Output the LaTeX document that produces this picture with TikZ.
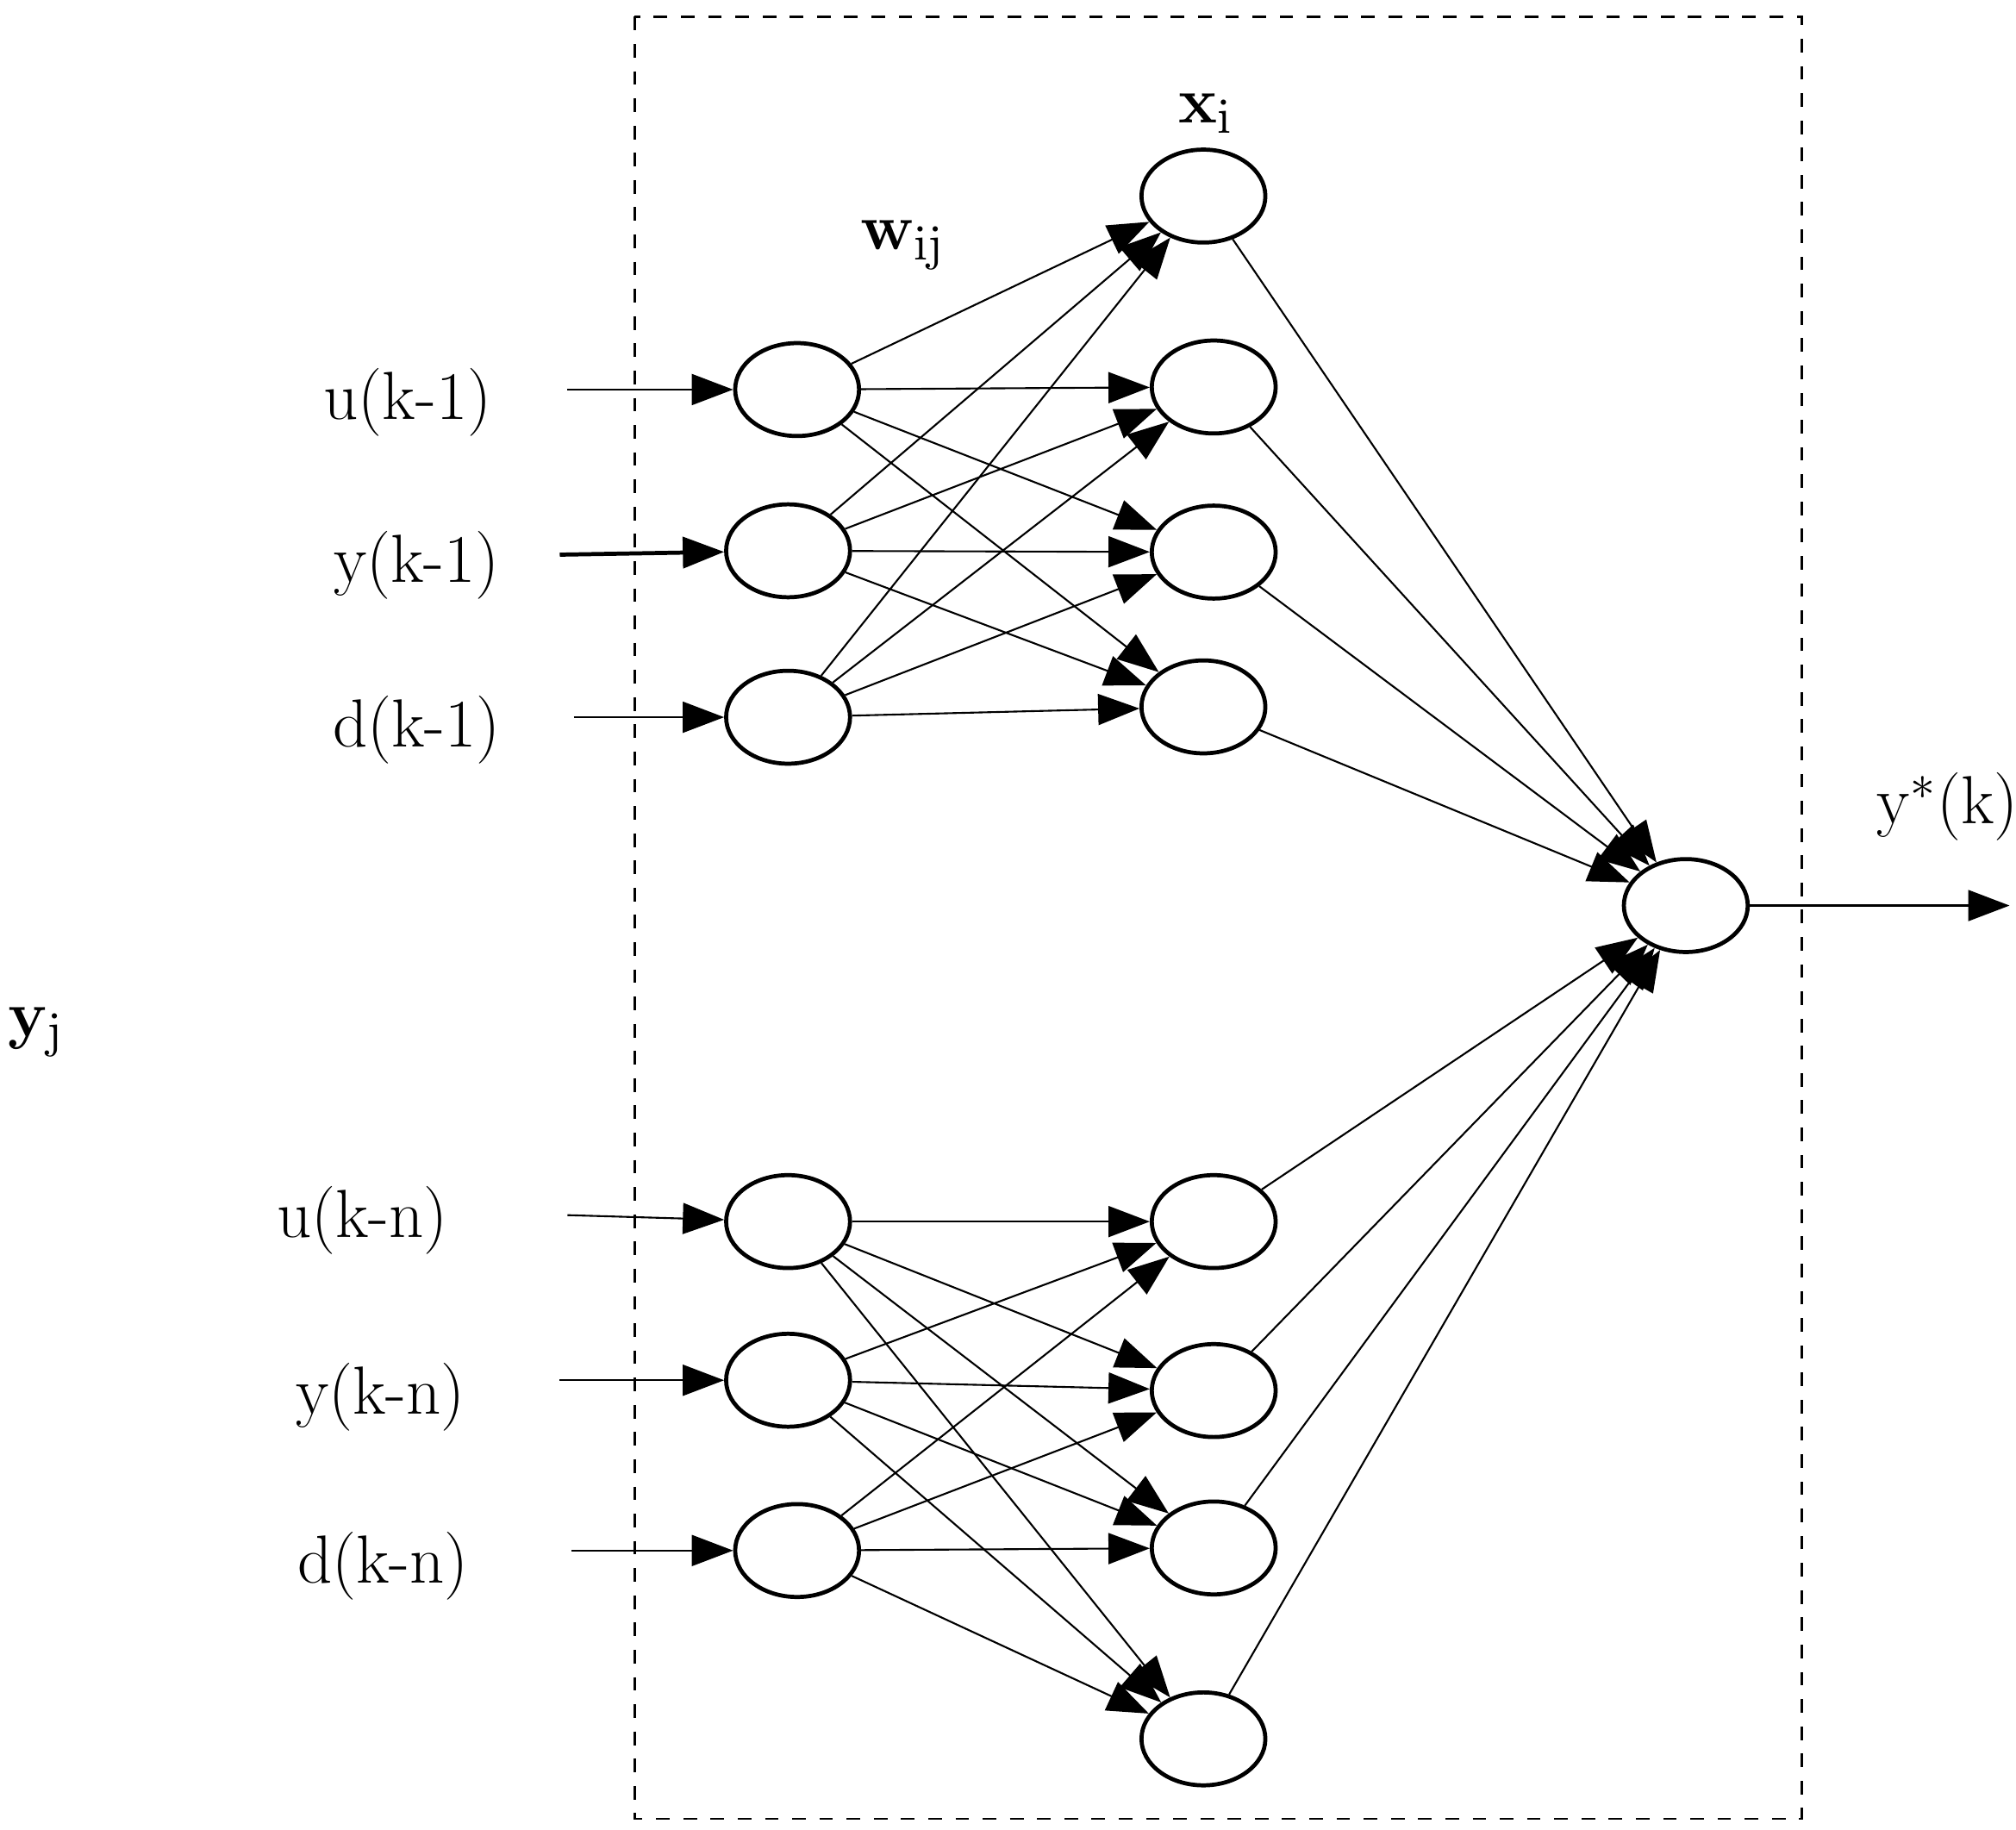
\documentclass[tikz,border=0pt]{standalone}
\usetikzlibrary{shapes.geometric,arrows.meta}
\begin{document}
\begin{tikzpicture}[x=0.01cm,y=-0.01cm,
  neu/.style={ellipse,draw,line width=0.9pt,minimum width=0.96cm,minimum height=0.72cm,inner sep=0pt},
  con/.style={-{Triangle[length=0.32cm,width=0.24cm]},line width=0.4pt},
  lab/.style={font=\fontsize{15}{17}\selectfont}]
\useasboundingbox (0,0) rectangle (1563,1418);
\draw[dashed,line width=0.5pt] (492,13) rectangle (1397,1410);
\node[neu] (i1) at (618,302) {};
\node[neu] (i2) at (611,427) {};
\node[neu] (i3) at (611,556) {};
\node[neu] (i4) at (611,947) {};
\node[neu] (i5) at (611,1070) {};
\node[neu] (i6) at (618,1202) {};
\node[neu] (h1) at (933,152) {};
\node[neu] (h2) at (941,300) {};
\node[neu] (h3) at (941,428) {};
\node[neu] (h4) at (933,548) {};
\node[neu] (h5) at (941,947) {};
\node[neu] (h6) at (941,1078) {};
\node[neu] (h7) at (941,1200) {};
\node[neu] (h8) at (933,1348) {};
\node[neu] (o) at (1307,702) {};
\node[lab] (l1) at (316,312) {u(k-1)};
\node[lab] (l2) at (323,438) {y(k-1)};
\node[lab] (l3) at (323,566) {d(k-1)};
\node[lab] (l4) at (281,946) {u(k-n)};
\node[lab] (l5) at (295,1083) {y(k-n)};
\node[lab] (l6) at (297,1214) {d(k-n)};
\node[lab] (xi) at (935,88) {$\mathbf{x}_{\mathrm{i}}$};
\node[lab] (wij) at (700,190) {$\mathbf{w}_{\mathrm{ij}}$};
\node[lab] (yj) at (28,800) {$\mathbf{y}_{\mathrm{j}}$};
\node[lab] (ys) at (1510,625) {y$^{*}$(k)};
\coordinate (s1) at (440,302);
\coordinate (s2) at (434,430);
\coordinate (s3) at (445,556);
\coordinate (s4) at (440,942);
\coordinate (s5) at (434,1070);
\coordinate (s6) at (443,1202);
\coordinate (e) at (1558,702);
\draw[con] (s1) -- (i1);
\draw[con,line width=0.9pt] (s2) -- (i2);
\draw[con] (s3) -- (i3);
\draw[con] (s4) -- (i4);
\draw[con] (s5) -- (i5);
\draw[con] (s6) -- (i6);
\foreach \i in {i1,i2,i3}\foreach \h in {h1,h2,h3,h4} \draw[con] (\i) -- (\h);
\foreach \i in {i4,i5,i6}\foreach \h in {h5,h6,h7,h8} \draw[con] (\i) -- (\h);
\foreach \h in {h1,h2,h3,h4,h5,h6,h7,h8} \draw[con] (\h) -- (o);
\draw[con] (o) -- (e);
\end{tikzpicture}
\end{document}
